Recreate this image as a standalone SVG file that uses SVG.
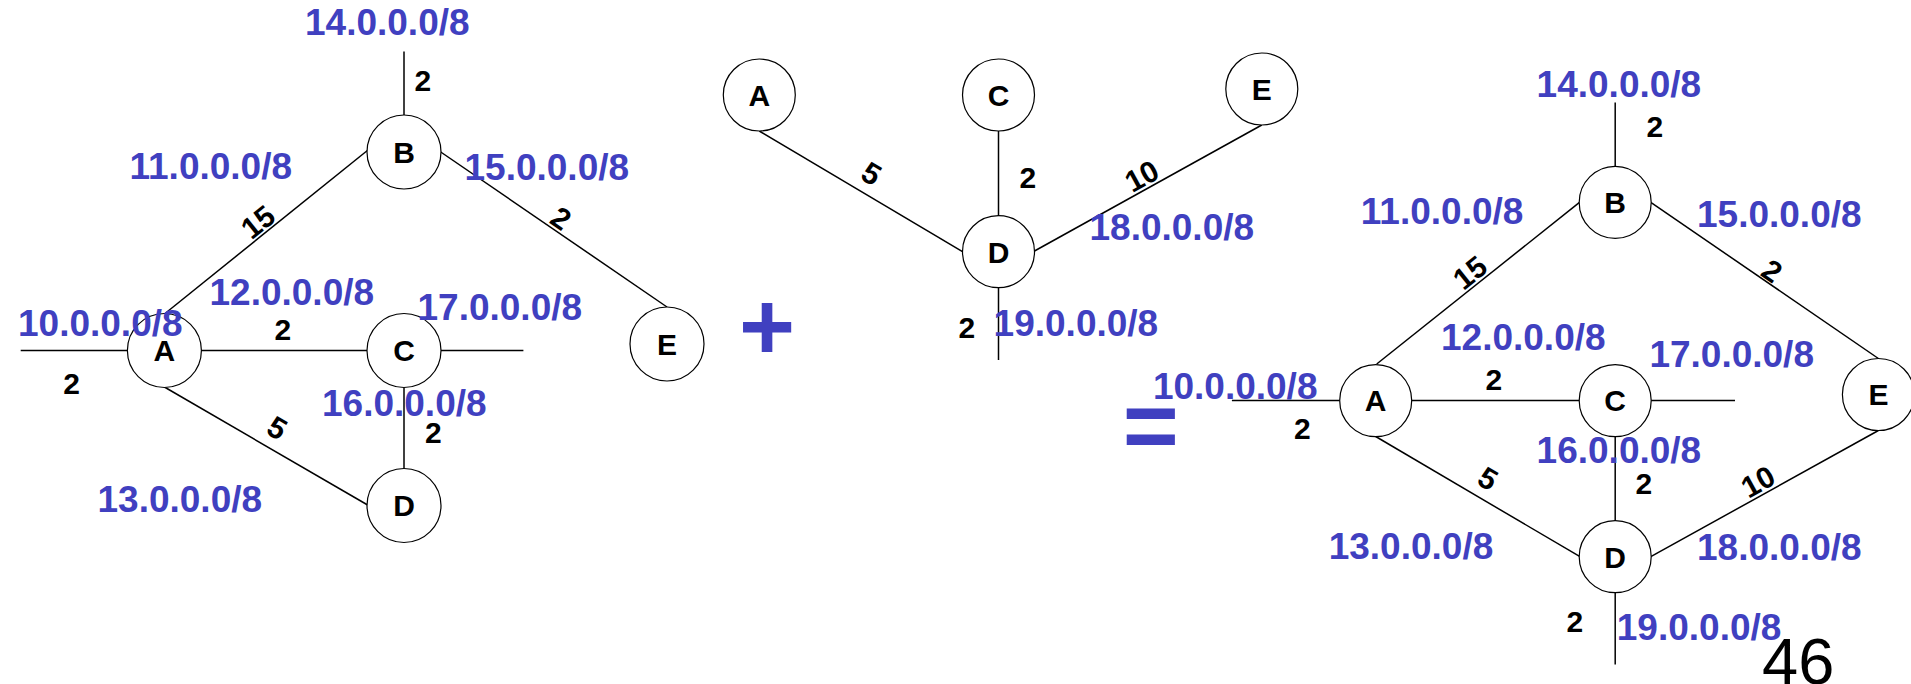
<svg xmlns="http://www.w3.org/2000/svg" width="1911" height="684" viewBox="0 0 1911 684">
<style>
.bg{fill:#fff}
.edge{stroke:#000;stroke-width:1.5;fill:none}
.node circle{fill:#fff;stroke:#000;stroke-width:1.2}
.node text{font-family:"Liberation Sans",Arial,sans-serif;font-weight:bold;font-size:30px;fill:#000;text-anchor:middle}
.net{font-family:"Liberation Sans",Arial,sans-serif;font-weight:bold;font-size:37px;fill:#4040C0}
.cost{font-family:"Liberation Sans",Arial,sans-serif;font-weight:bold;font-size:30px;fill:#000}
.rc{text-anchor:middle}
.op{font-family:"Liberation Sans",Arial,sans-serif;font-weight:bold;font-size:96px;fill:#4040C0;text-anchor:middle}
.pg{font-family:"Liberation Sans",Arial,sans-serif;font-size:65px;fill:#000}
</style>
<rect class="bg" x="0" y="0" width="1911" height="684"/>

<g id="connectors">
  <!-- left graph -->
  <line class="edge" x1="404" y1="51.5" x2="404" y2="115"/>
  <line class="edge" x1="164.4" y1="314" x2="368" y2="150"/>
  <line class="edge" x1="440" y1="151.5" x2="667" y2="307"/>
  <line class="edge" x1="20.7" y1="350.5" x2="127.5" y2="350.5"/>
  <line class="edge" x1="201.5" y1="350.5" x2="367" y2="350.5"/>
  <line class="edge" x1="441" y1="350.5" x2="523.4" y2="350.5"/>
  <line class="edge" x1="164.4" y1="387" x2="368.5" y2="505.5"/>
  <line class="edge" x1="404" y1="387.5" x2="404" y2="469"/>
  <!-- middle graph -->
  <line class="edge" x1="759.3" y1="131" x2="962.5" y2="251.7"/>
  <line class="edge" x1="998.5" y1="131" x2="998.5" y2="216"/>
  <line class="edge" x1="1261.8" y1="125" x2="1034.5" y2="251"/>
  <line class="edge" x1="998.5" y1="288" x2="998.5" y2="360"/>
  <!-- right graph -->
  <line class="edge" x1="1615.2" y1="102.6" x2="1615.2" y2="167"/>
  <line class="edge" x1="1376.7" y1="364" x2="1579.5" y2="202.4"/>
  <line class="edge" x1="1650.8" y1="202.4" x2="1878.4" y2="358.5"/>
  <line class="edge" x1="1231.9" y1="400.6" x2="1340.5" y2="400.6"/>
  <line class="edge" x1="1411" y1="400.6" x2="1580" y2="400.6"/>
  <line class="edge" x1="1650.5" y1="400.6" x2="1735" y2="400.6"/>
  <line class="edge" x1="1375.7" y1="436.5" x2="1580" y2="556.7"/>
  <line class="edge" x1="1615.2" y1="436.5" x2="1615.2" y2="521"/>
  <line class="edge" x1="1650.8" y1="556.7" x2="1878.4" y2="430.5"/>
  <line class="edge" x1="1615.2" y1="592.5" x2="1615.2" y2="664.6"/>
</g>

<g id="L-A" class="node"><circle cx="164.4" cy="350.5" r="37"/><text x="164.4" y="361.3">A</text></g>
<g id="L-B" class="node"><circle cx="404" cy="152" r="37"/><text x="404" y="162.8">B</text></g>
<g id="L-C" class="node"><circle cx="404" cy="350.5" r="37"/><text x="404" y="361.3">C</text></g>
<g id="L-D" class="node"><circle cx="404" cy="505.5" r="37"/><text x="404" y="516.3">D</text></g>
<g id="L-E" class="node"><circle cx="667" cy="344" r="37"/><text x="667" y="354.8">E</text></g>

<g id="M-A" class="node"><circle cx="759.3" cy="95" r="36"/><text x="759.3" y="105.8">A</text></g>
<g id="M-C" class="node"><circle cx="998.5" cy="95" r="36"/><text x="998.5" y="105.8">C</text></g>
<g id="M-D" class="node"><circle cx="998.5" cy="251.7" r="36"/><text x="998.5" y="262.5">D</text></g>
<g id="M-E" class="node"><circle cx="1261.8" cy="89" r="36"/><text x="1261.8" y="99.8">E</text></g>

<g id="R-A" class="node"><circle cx="1375.7" cy="400.6" r="36"/><text x="1375.7" y="411.4">A</text></g>
<g id="R-B" class="node"><circle cx="1615.2" cy="202.4" r="36"/><text x="1615.2" y="213.2">B</text></g>
<g id="R-C" class="node"><circle cx="1615.2" cy="400.6" r="36"/><text x="1615.2" y="411.4">C</text></g>
<g id="R-D" class="node"><circle cx="1615.2" cy="556.7" r="36"/><text x="1615.2" y="567.5">D</text></g>
<g id="R-E" class="node"><circle cx="1878.4" cy="394.5" r="36"/><text x="1878.4" y="405.3">E</text></g>

<g id="costs">
  <!-- left -->
  <text class="cost" x="414.5" y="90.7">2</text>
  <text class="cost rc" transform="translate(266.5,232.5) rotate(-38.8)" y="-3">15</text>
  <text class="cost rc" transform="translate(554,228.5) rotate(34.3)" y="-2">2</text>
  <text class="cost" x="274.5" y="340.2">2</text>
  <text class="cost" x="63.3" y="394.3">2</text>
  <text class="cost" x="425" y="442.5">2</text>
  <text class="cost rc" transform="translate(267,445.5) rotate(30.3)" y="-10">5</text>
  <!-- middle -->
  <text class="cost rc" transform="translate(861,191) rotate(30.7)" y="-10">5</text>
  <text class="cost" x="1019.5" y="188.3">2</text>
  <text class="cost rc" transform="translate(1148.3,187.8) rotate(-29)" y="-3">10</text>
  <text class="cost" x="958.5" y="338.3">2</text>
  <!-- right -->
  <text class="cost" x="1646.5" y="137">2</text>
  <text class="cost rc" transform="translate(1478.5,283.2) rotate(-38.8)" y="-3">15</text>
  <text class="cost rc" transform="translate(1765,281.1) rotate(34.6)" y="-2">2</text>
  <text class="cost" x="1485.5" y="389.7">2</text>
  <text class="cost" x="1294" y="439.4">2</text>
  <text class="cost" x="1635.5" y="494">2</text>
  <text class="cost rc" transform="translate(1477.6,496.2) rotate(30.6)" y="-10">5</text>
  <text class="cost rc" transform="translate(1764.5,493.4) rotate(-29.1)" y="-3">10</text>
  <text class="cost" x="1566.5" y="632.3">2</text>
</g>

<g id="networks">
  <!-- left -->
  <text class="net" x="305" y="35">14.0.0.0/8</text>
  <text class="net" x="129.5" y="178.5">11.0.0.0/8</text>
  <text class="net" x="464.5" y="180">15.0.0.0/8</text>
  <text class="net" x="209.5" y="305">12.0.0.0/8</text>
  <text class="net" x="417.5" y="320">17.0.0.0/8</text>
  <text class="net" x="18" y="336">10.0.0.0/8</text>
  <text class="net" x="322" y="416">16.0.0.0/8</text>
  <text class="net" x="97.5" y="512">13.0.0.0/8</text>
  <!-- middle -->
  <text class="net" x="1089.5" y="240">18.0.0.0/8</text>
  <text class="net" x="993.6" y="336">19.0.0.0/8</text>
  <!-- right -->
  <text class="net" x="1536.6" y="96.5">14.0.0.0/8</text>
  <text class="net" x="1360.8" y="223.9">11.0.0.0/8</text>
  <text class="net" x="1697" y="227">15.0.0.0/8</text>
  <text class="net" x="1441" y="350">12.0.0.0/8</text>
  <text class="net" x="1649.4" y="366.6">17.0.0.0/8</text>
  <text class="net" x="1152.9" y="398.6">10.0.0.0/8</text>
  <text class="net" x="1536.6" y="463.3">16.0.0.0/8</text>
  <text class="net" x="1328.7" y="558.7">13.0.0.0/8</text>
  <text class="net" x="1697" y="560.3">18.0.0.0/8</text>
  <text class="net" x="1616.8" y="640.4">19.0.0.0/8</text>
</g>

<text class="op" x="767" y="359.5">+</text>
<text class="op" x="1150.8" y="459">=</text>
<text class="pg" x="1762" y="684">46</text>
</svg>
